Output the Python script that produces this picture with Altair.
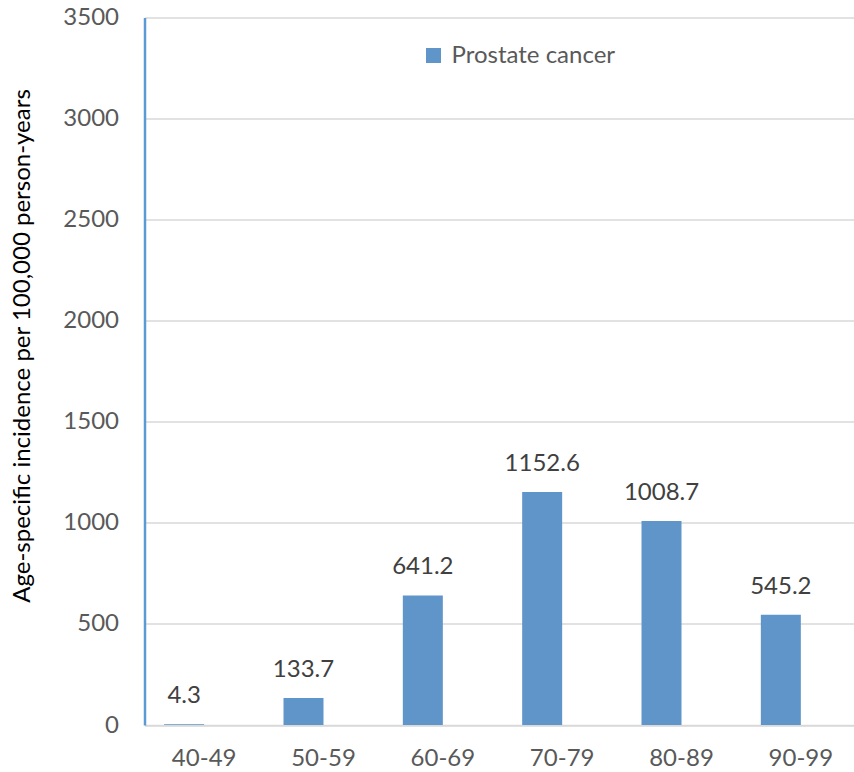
import altair as alt
import pandas as pd

# Age-specific prostate cancer incidence per 100,000 person-years
age_groups = ["40-49", "50-59", "60-69", "70-79", "80-89", "90-99"]
incidence = [4.3, 133.7, 641.2, 1152.6, 1008.7, 545.2]
series_name = "Prostate cancer"
y_ticks = [0, 500, 1000, 1500, 2000, 2500, 3000, 3500]

df = pd.DataFrame({
    "age": age_groups,
    "incidence": incidence,
    "series": [series_name] * len(age_groups),
})

FONT = "Lato"
FS = 24
BAR_COLOR = "#6095C9"
AXIS_BLUE = "#5B9BD5"
GRID = "#D9D9D9"
LABEL_GRAY = "#595959"

x_enc = alt.X(
    "age:N",
    sort=age_groups,
    scale=alt.Scale(range=[0, 716], paddingInner=0, paddingOuter=0),
    axis=alt.Axis(
        title=None,
        labelAngle=0,
        labelFont=FONT,
        labelFontSize=FS,
        labelColor=LABEL_GRAY,
        labelPadding=21,
        ticks=False,
        domainColor=GRID,
        domainWidth=1.5,
        grid=False,
    ),
)

y_enc = alt.Y(
    "incidence:Q",
    scale=alt.Scale(domain=[0, 3500], nice=False),
    axis=alt.Axis(
        title="Age-specific incidence per 100,000 person-years",
        titleFont=FONT,
        titleFontSize=FS,
        titleFontWeight="normal",
        titleColor="#000000",
        titleAngle=-90,
        titleBaseline="middle",
        titleAlign="center",
        titleX=-122,
        titleY=328,
        values=y_ticks,
        format="d",
        labelFont=FONT,
        labelFontSize=FS,
        labelColor=LABEL_GRAY,
        labelPadding=26,
        ticks=False,
        domainColor=AXIS_BLUE,
        domainWidth=2.5,
        grid=True,
        gridColor=GRID,
        gridWidth=1.5,
    ),
)

bars = alt.Chart(df).mark_bar(width=40, xOffset=-20).encode(
    x=x_enc,
    y=y_enc,
    color=alt.Color(
        "series:N",
        scale=alt.Scale(range=[BAR_COLOR]),
        legend=alt.Legend(
            title=None,
            orient="none",
            legendX=277,
            legendY=26,
            symbolType="square",
            symbolSize=225,
            symbolStrokeWidth=0,
            labelFont=FONT,
            labelFontSize=FS,
            labelColor=LABEL_GRAY,
            labelOffset=6,
            labelLimit=400,
        ),
    ),
)

labels = alt.Chart(df).mark_text(
    font=FONT,
    fontSize=FS,
    color="#404040",
    baseline="bottom",
    dy=-16,
    xOffset=-20,
).encode(
    x=alt.X("age:N", sort=age_groups),
    y=alt.Y("incidence:Q"),
    text=alt.Text("incidence:Q", format=".1f"),
)

chart = (
    alt.layer(bars, labels)
    .properties(
        width=709.5,
        height=707.5,
        autosize=alt.AutoSizeParams(type="none"),
        padding={"left": 144.5, "top": 17.5, "right": 0, "bottom": 47},
        background="white",
    )
    .configure_view(stroke=None)
)

chart.save("out.html", embed_options={"renderer": "svg", "actions": False})
